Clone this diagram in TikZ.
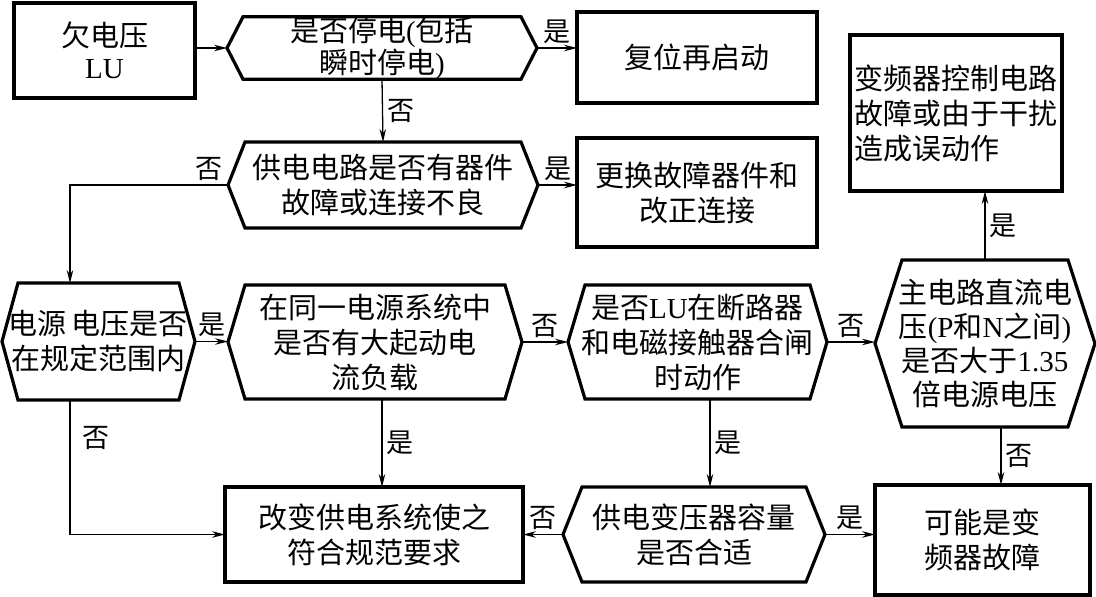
\documentclass[tikz,border=0pt]{standalone}
\usepackage{fontspec}
\setmainfont{Noto Sans CJK SC}
\newfontfamily\tmsfont{Liberation Serif}
\newcommand{\latn}[1]{{\tmsfont #1}}
\usetikzlibrary{arrows.meta,calc}

\begin{document}
\begin{tikzpicture}[x=1pt,y=-1pt,
	txt/.style={font=\fontsize{29}{35}\selectfont, align=center, inner sep=0pt, outer sep=0pt},
	box/.style={txt, draw, line width=3.2pt},
	frame/.style={line width=3.2pt, line join=miter},
	arr/.style={line width=1.3pt, -{Stealth[length=13pt,width=6.5pt]}},
	lbl/.style={font=\fontsize{27}{27}\selectfont, inner sep=4pt}]
	\useasboundingbox (0,0) rectangle (1096,597);

	% rectangles
	\node[box, minimum width=181pt, minimum height=95pt, font=\fontsize{29}{32}\selectfont] (lu) at (104.5,50.5) {欠电压\\\latn{LU}};
	\node[box, minimum width=240pt, minimum height=91pt] (reset) at (697,57.5) {复位再启动};
	\node[box, minimum width=240pt, minimum height=109pt] (replace) at (697,192.5) {更换故障器件和\\改正连接};
	\node[box, minimum width=212pt, minimum height=156pt, align=left, text width=203pt] (ctrl) at (956,113) {变频器控制电路\\故障或由于干扰\\造成误动作};
	\node[box, minimum width=298pt, minimum height=95pt] (change) at (374,534.5) {改变供电系统使之\\符合规范要求};
	\node[box, minimum width=215pt, minimum height=110pt] (fault) at (982.5,540) {可能是变\\频器故障};

	% decisions
	\node[txt, minimum width=310pt, minimum height=62pt, font=\fontsize{29}{30}\selectfont] (stop) at (382,48) {是否停电\latn{(}包括\\瞬时停电\latn{)}};
	\node[txt, minimum width=310pt, minimum height=86pt] (supply) at (383,185) {供电电路是否有器件\\故障或连接不良};
	\node[txt, minimum width=193pt, minimum height=117pt] (range) at (98.5,341.5) {电源\hspace{5pt}电压是否\\在规定范围内};
	\node[txt, minimum width=294pt, minimum height=114pt] (load) at (375,342) {在同一电源系统中\\是否有大起动电\\流负载};
	\node[txt, minimum width=259pt, minimum height=114pt] (breaker) at (697.5,342) {是否\latn{LU}在断路器\\和电磁接触器合闸\\时动作};
	\node[txt, minimum width=220pt, minimum height=167pt, font=\fontsize{29}{34}\selectfont] (dc) at (985,343.5) {主电路直流电\\压\latn{(P}和\latn{N}之间\latn{)}\\是否大于\latn{1.35}\\倍电源电压};
	\node[txt, minimum width=262pt, minimum height=95pt] (trafo) at (694,534.5) {供电变压器容量\\是否合适};

	\foreach \n/\s in {stop/16,supply/17,range/16,load/17,breaker/17,dc/27,trafo/19}
		\draw[frame] (\n.west) -- ($(\n.north west)+(\s,0)$) -- ($(\n.north east)+(-\s,0)$) -- (\n.east)
			-- ($(\n.south east)+(-\s,0)$) -- ($(\n.south west)+(\s,0)$) -- cycle;

	% connectors
	\draw[arr] (lu.east |- stop.west) -- (stop.west);
	\draw[arr] (stop.east) -- (stop.east -| reset.west) node[lbl, midway, above] {是};
	\draw[arr] (stop.south) -- (supply.north) node[lbl, midway, right] {否};
	\draw[arr] (supply.east) -- (supply.east -| replace.west) node[lbl, midway, above] {是};
	\draw[arr] (supply.west) -| ([xshift=-28.5pt]range.north) node[lbl, pos=0.06, above] {否};
	\draw[arr] (range.east) -- (range.east -| load.west) node[lbl, midway, above] {是};
	\draw[arr] (load.east) -- (load.east -| breaker.west) node[lbl, midway, above] {否};
	\draw[arr] (breaker.east) -- (breaker.east -| dc.west) node[lbl, midway, above] {否};
	\draw[arr] (dc.north) -- (dc.north |- ctrl.south) node[lbl, midway, right] {是};
	\draw[arr] ($(dc.south)+(16,0)$) coordinate (d1) -- (d1 |- fault.north) node[lbl, midway, right] {否};
	\draw[arr] ([xshift=-28.5pt]range.south) |- (change.west) node[lbl, pos=0.14, right=8pt] {否};
	\draw[arr] ($(load.south)+(7,0)$) coordinate (l1) -- (l1 |- change.north) node[lbl, midway, right] {是};
	\draw[arr] ($(breaker.south)+(12.5,0)$) coordinate (b1) -- (b1 |- trafo.north) node[lbl, midway, right] {是};
	\draw[arr] (trafo.west) -- (trafo.west -| change.east) node[lbl, midway, above] {否};
	\draw[arr] (trafo.east) -- (trafo.east -| fault.west) node[lbl, midway, above] {是};
\end{tikzpicture}
\end{document}
